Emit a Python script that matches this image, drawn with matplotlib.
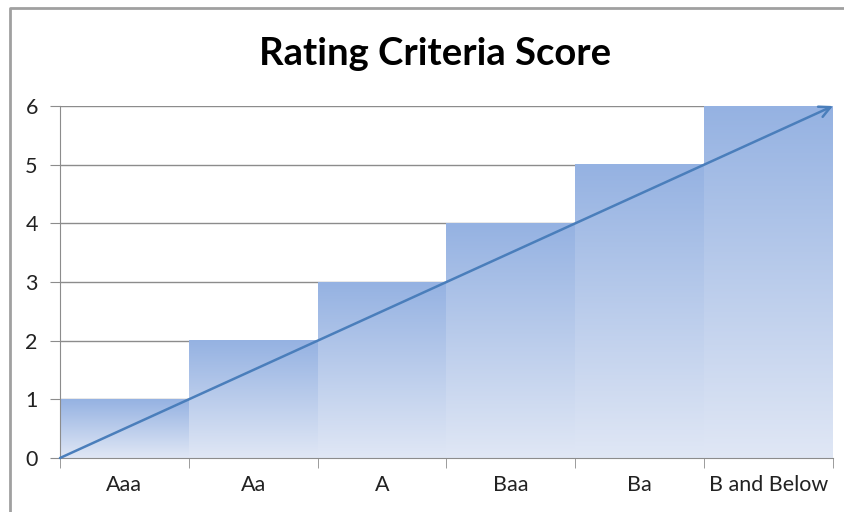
import numpy as np
import matplotlib.pyplot as plt
from matplotlib.lines import Line2D

categories = ["Aaa", "Aa", "A", "Baa", "Ba", "B and Below"]
scores = [1, 2, 3, 4, 5, 6]
yticks = [0, 1, 2, 3, 4, 5, 6]

W, H = 845, 512
fig = plt.figure(figsize=(W / 100, H / 100), dpi=100)
plt.rcParams['font.family'] = ['Lato', 'DejaVu Sans']

L, R, T, B = 60, 833, 106, 458
ax = fig.add_axes([L / W, 1 - B / H, (R - L) / W, (B - T) / H])

top_c = np.array([149, 178, 226]) / 255
bot_c = np.array([224, 231, 245]) / 255
grad = np.linspace(0, 1, 256)[:, None]
img = top_c[None, None, :] * (1 - grad[:, :, None]) + bot_c[None, None, :] * grad[:, :, None]

n = len(categories)
for i, v in enumerate(scores):
    ax.imshow(img, extent=(i - 0.5, i + 0.5, 0, v), aspect='auto', zorder=2,
              interpolation='bilinear')

ax.set_xlim(-0.5, n - 0.5)
ax.set_ylim(0, 6)
ax.set_yticks(yticks)
ax.set_yticklabels([str(t) for t in yticks], fontsize=15.5, color='#222222')
ax.yaxis.grid(True, color='#8c8c8c', linewidth=1.0, zorder=0)
ax.set_axisbelow(True)

ax.set_xticks(range(n))
ax.set_xticklabels(categories, fontsize=15.5, color='#222222')
ax.tick_params(axis='x', length=0, pad=12)
ax.tick_params(axis='y', length=7, color='#8c8c8c', pad=9)
# category boundary ticks
ax.set_xticks(np.arange(-0.5, n, 1.0), minor=True)
ax.tick_params(axis='x', which='minor', length=7, color='#8c8c8c')

for s in ['top', 'right']:
    ax.spines[s].set_visible(False)
ax.spines['left'].set_color('#8c8c8c')
ax.spines['bottom'].set_color('#8c8c8c')

ax.annotate('', xy=(n - 0.5, 6), xytext=(-0.5, 0),
            arrowprops=dict(arrowstyle='->,head_length=0.8,head_width=0.4',
                            color='#4a7ebb', lw=1.8, shrinkA=0, shrinkB=0),
            zorder=5, annotation_clip=False)

fig.text(435 / W, 1 - 54 / H, "Rating Criteria Score", ha='center', va='center',
         fontsize=27.5, fontweight='bold', color='black')

# figure border (left and top visible)
fig.add_artist(Line2D([10 / W, 10 / W, 1], [0, 1 - 8 / H, 1 - 8 / H],
                      transform=fig.transFigure, color='#a0a0a0', lw=2))

fig.savefig('out.png', dpi=100)
